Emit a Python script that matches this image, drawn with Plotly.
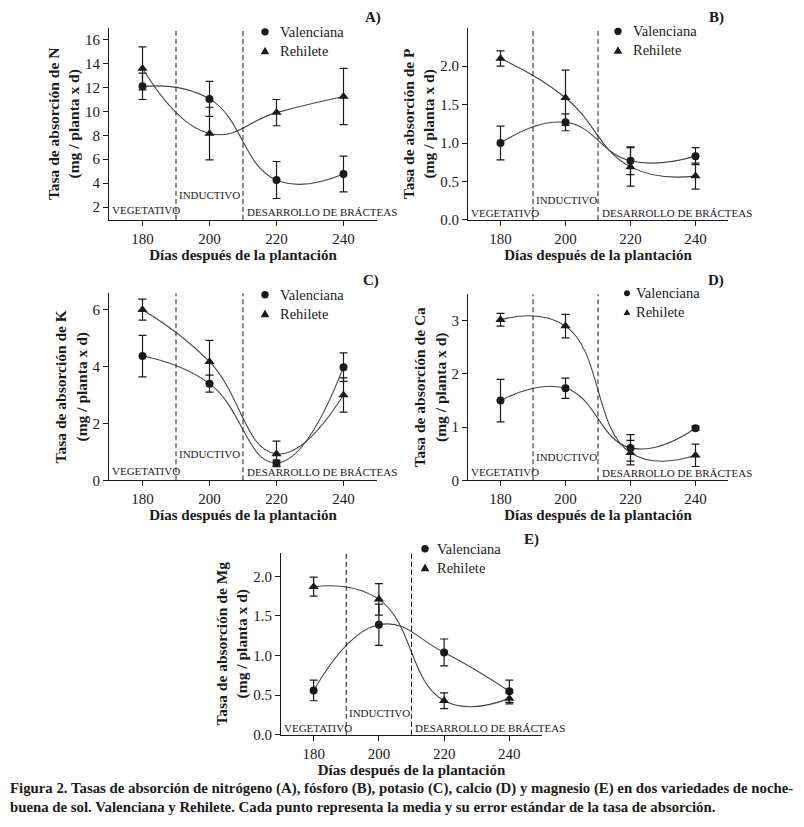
import plotly.graph_objects as go

# ---------------- data ----------------
days = [180, 200, 220, 240]
x_ticks = [180, 200, 220, 240]
series_names = ["Valenciana", "Rehilete"]

N_val = [12.1, 11.05, 4.26, 4.76]
N_val_err = [1.1, 1.47, 1.55, 1.5]
N_reh = [13.6, 8.15, 9.9, 11.25]
N_reh_err = [1.8, 2.2, 1.1, 2.35]

P_val = [1.0, 1.27, 0.77, 0.83]
P_val_err = [0.22, 0.11, 0.18, 0.11]
P_reh = [2.1, 1.59, 0.69, 0.57]
P_reh_err = [0.1, 0.36, 0.25, 0.17]

K_val = [4.37, 3.4, 0.61, 3.98]
K_val_err = [0.73, 0.3, 0.1, 0.5]
K_reh = [6.0, 4.17, 0.93, 3.0]
K_reh_err = [0.37, 0.75, 0.45, 0.6]

Ca_val = [1.5, 1.73, 0.61, 0.98]
Ca_val_err = [0.4, 0.19, 0.25, 0.04]
Ca_reh = [3.02, 2.9, 0.52, 0.47]
Ca_reh_err = [0.12, 0.22, 0.23, 0.21]

Mg_val = [0.56, 1.39, 1.04, 0.55]
Mg_val_err = [0.13, 0.26, 0.17, 0.14]
Mg_reh = [1.87, 1.71, 0.43, 0.46]
Mg_reh_err = [0.12, 0.2, 0.1, 0.07]

phase_bounds = [190, 210]
phase_labels = ["VEGETATIVO", "INDUCTIVO", "DESARROLLO DE BRÁCTEAS"]

panels = [
    dict(letter="A)", nutrient="N", val=N_val, val_err=N_val_err, reh=N_reh, reh_err=N_reh_err,
         yrange=[0.92, 17.0], yticks=[2, 4, 6, 8, 10, 12, 14, 16], fmt="d"),
    dict(letter="B)", nutrient="P", val=P_val, val_err=P_val_err, reh=P_reh, reh_err=P_reh_err,
         yrange=[0, 2.5], yticks=[0, 0.5, 1.0, 1.5, 2.0], fmt=".1f"),
    dict(letter="C)", nutrient="K", val=K_val, val_err=K_val_err, reh=K_reh, reh_err=K_reh_err,
         yrange=[0, 6.58], yticks=[0, 2, 4, 6], fmt="d"),
    dict(letter="D)", nutrient="Ca", val=Ca_val, val_err=Ca_val_err, reh=Ca_reh, reh_err=Ca_reh_err,
         yrange=[0, 3.5], yticks=[0, 1, 2, 3], fmt="d"),
    dict(letter="E)", nutrient="Mg", val=Mg_val, val_err=Mg_val_err, reh=Mg_reh, reh_err=Mg_reh_err,
         yrange=[0, 2.3], yticks=[0, 0.5, 1.0, 1.5, 2.0], fmt=".1f"),
]

# ---------------- layout geometry (page pixels; page has an 8px body margin) ----------------
OFF = 8
FW, FH = 796, 819


def fx(px):
    return (px - OFF) / FW


def fy(py):
    return 1 - (py - OFF) / FH


boxes = [  # left, right, top, bottom (page px)
    (109, 377, 28, 222),
    (468, 728, 28, 222),
    (109, 377, 296, 485),
    (468, 728, 297, 485),
    (281, 542, 558, 742),
]
# phase-label heights (fraction of plot height) for VEGETATIVO, INDUCTIVO, DESARROLLO
label_heights = [(0.05, 0.13, 0.04), (0.035, 0.105, 0.035), (0.05, 0.14, 0.044),
                 (0.045, 0.125, 0.04), (0.04, 0.12, 0.036)]
LEG_FONT = 14.5
ROW = LEG_FONT * 1.3 / 2
# legend: marker x, text x, centre y, marker scale
legend_pos = [(265, 278, 41.5, 1.0), (618, 631, 41, 1.0), (265, 278, 307, 1.0),
              (627, 634, 305.5, 0.8), (425, 435, 563.5, 1.0)]
letter_pos = [(383, 18), (726, 18), (381, 283), (726, 283), (541, 545)]

SERIF = "Liberation Serif, Times New Roman, serif"
INK = "#1a1a1a"

fig = go.Figure()
annotations = []
shapes = []

for i, p in enumerate(panels):
    k = "" if i == 0 else str(i + 1)
    xa, ya = "x" + k, "y" + k
    for name, yv, ev, sym in [(series_names[0], p["val"], p["val_err"], "circle"),
                              (series_names[1], p["reh"], p["reh_err"], "triangle-up")]:
        fig.add_trace(go.Scatter(
            x=days, y=yv, mode="lines", line=dict(color="#444", width=1.1, shape="spline", smoothing=1.3),
            xaxis=xa, yaxis=ya, showlegend=False, hoverinfo="skip"))
        fig.add_trace(go.Scatter(
            x=days, y=yv, mode="markers", name=name,
            marker=dict(symbol=sym, size=8 if sym == "circle" else 9, color=INK),
            error_y=dict(type="data", array=ev, visible=True, color=INK, thickness=1.2, width=4),
            xaxis=xa, yaxis=ya, showlegend=False))

    l, r, t, b = boxes[i]
    axis_common = dict(showline=True, linecolor=INK, linewidth=1, ticks="outside", ticklen=5,
                       tickcolor=INK, tickwidth=1, showgrid=False, zeroline=False,
                       tickfont=dict(family=SERIF, size=15, color=INK))
    fig.layout["xaxis" + k] = dict(
        domain=[fx(l), fx(r)], anchor=ya, range=[170, 250], tickvals=x_ticks,
        title=dict(text="<b>Días después de la plantación</b>", standoff=2,
                   font=dict(family=SERIF, size=15, color=INK)),
        **axis_common)
    fig.layout["yaxis" + k] = dict(
        domain=[fy(b), fy(t)], anchor=xa, range=p["yrange"], tickvals=p["yticks"],
        tickformat=p["fmt"],
        title=dict(text="<b>Tasa de absorción de %s<br>(mg / planta x d)</b>" % p["nutrient"],
                   standoff=1, font=dict(family=SERIF, size=15.5, color=INK)),
        **axis_common)

    for xb in phase_bounds:
        shapes.append(dict(type="line", xref=xa, yref=ya + " domain", x0=xb, x1=xb, y0=0, y1=1,
                           line=dict(color=INK, width=1, dash="5px,3px")))

    lab_font = dict(family=SERIF, size=11, color=INK)
    hv, hi, hd = label_heights[i]
    annotations += [
        dict(text=phase_labels[0], xref=xa, yref=ya + " domain", x=170.3, y=hv,
             xanchor="left", yanchor="middle", showarrow=False, font=lab_font),
        dict(text=phase_labels[1], xref=xa, yref=ya + " domain", x=190.2, y=hi,
             xanchor="left", yanchor="middle", showarrow=False, font=lab_font),
        dict(text=phase_labels[2], xref=xa, yref=ya + " domain", x=210.5, y=hd,
             xanchor="left", yanchor="middle", showarrow=False, font=lab_font),
    ]
    lx, ly = letter_pos[i]
    annotations.append(dict(text="<b>%s</b>" % p["letter"], xref="paper", yref="paper",
                            x=fx(lx), y=fy(ly), xanchor="right", yanchor="middle",
                            showarrow=False, font=dict(family=SERIF, size=15, color=INK)))

    # legend (marker glyphs + two-line label)
    mx, tx, cy, sc = legend_pos[i]
    r1, r2 = cy - ROW, cy + ROW
    rad = 3.7 * sc
    shapes.append(dict(type="circle", xref="paper", yref="paper", xsizemode="pixel", ysizemode="pixel",
                       xanchor=fx(mx), yanchor=fy(r1), x0=-rad, x1=rad, y0=-rad, y1=rad,
                       fillcolor=INK, line=dict(width=0)))
    hw, hh = 4.3 * sc, 3.8 * sc
    shapes.append(dict(type="path", xref="paper", yref="paper", xsizemode="pixel", ysizemode="pixel",
                       xanchor=fx(mx), yanchor=fy(r2),
                       path="M %.1f,%.1f L %.1f,%.1f L 0,%.1f Z" % (-hw, -hh, hw, -hh, hh),
                       fillcolor=INK, line=dict(width=0)))
    annotations.append(dict(text="%s<br>%s" % (series_names[0], series_names[1]),
                            xref="paper", yref="paper", x=fx(tx), y=fy(cy),
                            xanchor="left", yanchor="middle", align="left", showarrow=False,
                            font=dict(family=SERIF, size=LEG_FONT, color=INK)))

caption_lines = [
    "Figura 2. Tasas de absorción de nitrógeno (A), fósforo (B), potasio (C), calcio (D) y magnesio (E) en dos variedades de noche-",
    "buena de sol. Valenciana y Rehilete. Cada punto representa la media y su error estándar de la tasa de absorción.",
]
annotations.append(dict(text="<b>%s<br>%s</b>" % tuple(caption_lines), xref="paper", yref="paper",
                        x=fx(8), y=fy(805), xanchor="left", yanchor="middle", align="left",
                        showarrow=False, font=dict(family=SERIF, size=14.8, color=INK)))

fig.update_layout(width=FW, height=FH, margin=dict(l=0, r=0, t=0, b=0),
                  paper_bgcolor="white", plot_bgcolor="white",
                  annotations=annotations, shapes=shapes, showlegend=False)

fig.write_html("out.html")
